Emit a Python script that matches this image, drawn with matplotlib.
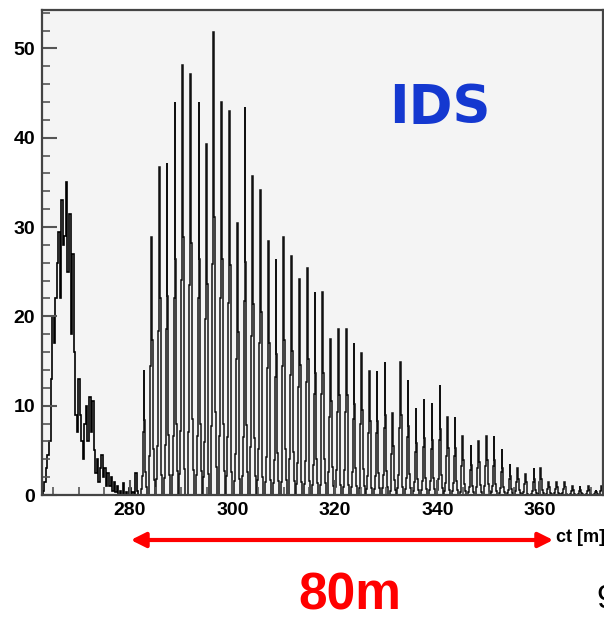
import numpy as np
import matplotlib
matplotlib.use('Agg')
import matplotlib.pyplot as plt
from matplotlib.patches import FancyArrowPatch

# Early component: counts per 0.3 m bin starting at 263.0 m
early_start = 263.0
early_width = 0.3
early_counts = [0.5, 1.5, 3, 4.5, 6, 13, 20, 17, 22, 26, 29.5, 22, 33, 28, 29, 35, 25,
                31.5, 18, 27, 16, 9, 7, 13, 9, 6, 4, 8, 10, 6, 11, 7, 10.5, 5, 2.5, 4,
                1.5, 3, 4.5, 2, 3, 1, 2.5, 1, 2, 0.5, 1.5, 0.3, 1, 0, 0.5, 0, 1.3, 0,
                0.3, 0, 0.8, 0, 0.3, 0, 2.5, 0.5, 0]

# Bunched component: spike positions (ct, m) and peak counts
spike_ct = [282.73, 284.23, 285.72, 287.22, 288.78, 290.20, 291.84, 293.46, 294.89,
            296.33, 297.89, 299.37, 300.94, 302.44, 303.94, 305.42, 306.99, 308.49,
            309.99, 311.55, 313.03, 314.59, 316.10, 317.60, 319.16, 320.64, 322.20,
            323.71, 325.21, 326.69, 328.20, 329.76, 331.26, 332.74, 334.24, 335.80,
            337.37, 338.93, 340.49, 341.91, 343.41, 344.92, 346.54, 348.04, 349.58,
            351.02, 352.59, 354.15, 355.65, 357.13, 358.83, 360.14, 361.70, 363.26,
            364.74, 366.30, 367.80, 369.42, 370.93, 372.05]
spike_counts = [14, 28.9, 36.7, 37.2, 44.0, 48.1, 47.1, 44.0, 39.3, 51.8, 44.0, 43.0,
                30.5, 43.4, 35.7, 34.1, 28.4, 26.4, 28.9, 26.8, 24.2, 25.4, 22.7, 22.7,
                17.5, 18.6, 18.6, 17.0, 15.9, 13.9, 13.9, 14.9, 9.2, 14.9, 12.9, 9.7,
                10.7, 10.3, 12.3, 8.7, 8.7, 6.6, 5.6, 6.1, 6.6, 6.6, 5.1, 3.5, 3.0, 2.4,
                3.0, 3.0, 1.4, 1.4, 1.4, 1.0, 1.0, 1.0, 0.6, 1.0]

x_major = [280, 300, 320, 340, 360]
y_major = [0, 10, 20, 30, 40, 50]

# shape of one bunch in fine bins (style)
profile = np.array([0.05, 0.15, 0.5, 1.0, 0.6, 0.18, 0.06])
pbin = 0.17

W, H = 604, 620
fig = plt.figure(figsize=(W / 100, H / 100), dpi=100)
fig.patch.set_facecolor('white')
ax = fig.add_axes([42 / W, 125 / H, 561 / W, 485 / H])
ax.set_facecolor('#f4f4f4')

edges = early_start + early_width * np.arange(len(early_counts) + 1)
ax.stairs(early_counts, edges, color='black', lw=1.2, baseline=0)

for c, h in zip(spike_ct, spike_counts):
    e = c + (np.arange(len(profile) + 1) - len(profile) / 2) * pbin
    ax.stairs(profile * h, e, color='#111111', lw=1.1, baseline=0)

ax.set_xlim(262.83, 372.3)
ax.set_ylim(0, 54.3)

ax.set_xticks(x_major)
ax.set_xticks(np.arange(265, 372, 5), minor=True)
ax.set_yticks(y_major)
ax.set_yticks(np.arange(0, 55, 2), minor=True)

ax.tick_params(which='both', direction='in', color='#555555', top=False, right=False)
ax.tick_params(which='major', length=11, width=1.5, pad=5)
ax.tick_params(which='minor', length=5.5, width=1.2)
for lab in ax.get_xticklabels() + ax.get_yticklabels():
    lab.set_fontfamily('Liberation Sans')
    lab.set_fontweight('bold')
    lab.set_fontsize(14)

for s in ['left', 'top', 'right', 'bottom']:
    ax.spines[s].set_color('#444444')
    ax.spines[s].set_linewidth(1.6)

def fx(px):
    return px / W

def fy(py):
    return 1 - py / H

fig.text(fx(556), fy(537), 'ct [m]', ha='left', va='center', fontsize=13,
         fontweight='bold', family='Liberation Sans')

arrow = FancyArrowPatch((fx(128), fy(540)), (fx(556), fy(540)),
                        transform=fig.transFigure, arrowstyle='<|-|>',
                        mutation_scale=22, color='#ff0000', lw=3)
fig.add_artist(arrow)

fig.text(fx(350), fy(596), '80m', ha='center', va='center', fontsize=37,
         fontweight='bold', color='#ff0000', family='Liberation Sans')
fig.text(fx(440), fy(108), 'IDS', ha='center', va='center', fontsize=38,
         fontweight='bold', color='#1438d0', family='DejaVu Sans')
fig.text(fx(596), fy(600), '9', ha='left', va='center', fontsize=24,
         color='black', family='Liberation Sans')

fig.savefig('out.png', dpi=100)
